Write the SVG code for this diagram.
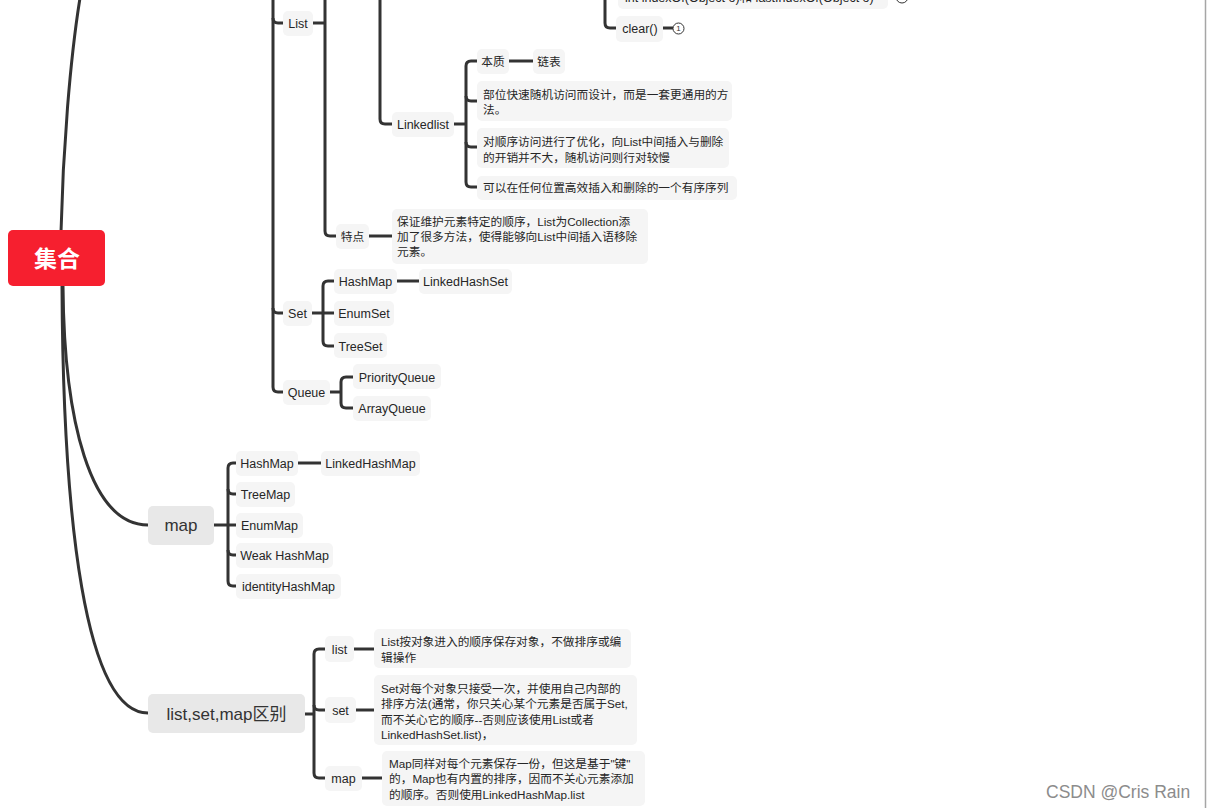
<svg xmlns="http://www.w3.org/2000/svg" width="1209" height="808" viewBox="0 0 1209 808">
<style>
.c{fill:none;stroke:#333;stroke-width:3;stroke-linecap:butt;stroke-linejoin:round}
.b{fill:#f5f5f5}
.m{fill:#e8e8e8}
.t{font-family:"Liberation Sans","Noto Sans CJK SC",sans-serif;font-size:12.5px;fill:#262626}
.tc{text-anchor:middle}
.z{font-family:"Liberation Sans","Noto Sans CJK SC",sans-serif;font-size:11.7px;fill:#262626}
.big{font-family:"Liberation Sans","Noto Sans CJK SC",sans-serif;font-size:17px;fill:#333;text-anchor:middle}
</style>
<rect x="0" y="0" width="1209" height="808" fill="#ffffff"/>
<g id="connectors">
<path class="c" d="M61,232 C63,150 70,60 80,-2"/>
<path class="c" d="M63,286 C64,420 90,525 148,525"/>
<path class="c" d="M62,286 C63,520 85,713 148,713"/>
<path class="c" d="M273,0 V387 Q273,392 278,392 H283"/>
<path class="c" d="M273,18 Q273,23 278,23 H283"/>
<path class="c" d="M273,308 Q273,313 278,313 H283"/>
<path class="c" d="M313,23 H325"/>
<path class="c" d="M325,0 V231 Q325,236 330,236 H336"/>
<path class="c" d="M380,0 V119 Q380,124 385,124 H392"/>
<path class="c" d="M605,0 V23 Q605,28 610,28 H616"/>
<path class="c" d="M663,28 H673"/>
<path class="c" d="M888,-3 H896"/>
<path class="c" d="M454,124 H466"/>
<path class="c" d="M477,61 H471 Q466,61 466,66 V182 Q466,187 471,187 H477"/>
<path class="c" d="M466,96 Q466,101 471,101 H477"/>
<path class="c" d="M466,142 Q466,147 471,147 H477"/>
<path class="c" d="M509,61 H533"/>
<path class="c" d="M369,236 H392"/>
<path class="c" d="M312,313 H334"/>
<path class="c" d="M334,281 H328 Q323,281 323,286 V341 Q323,346 328,346 H334"/>
<path class="c" d="M397,281 H419"/>
<path class="c" d="M330,392 H341"/>
<path class="c" d="M353,377 H346 Q341,377 341,382 V403 Q341,408 346,408 H353"/>
<path class="c" d="M214,525 H236"/>
<path class="c" d="M236,463 H233 Q228,463 228,468 V581 Q228,586 233,586 H236"/>
<path class="c" d="M228,489 Q228,494 233,494 H236"/>
<path class="c" d="M228,550 Q228,555 233,555 H236"/>
<path class="c" d="M298,463 H321"/>
<path class="c" d="M305,714 H314"/>
<path class="c" d="M325,649 H319 Q314,649 314,654 V773 Q314,778 319,778 H325"/>
<path class="c" d="M314,705 Q314,710 319,710 H325"/>
<path class="c" d="M354,649 H374"/>
<path class="c" d="M356,710 H374"/>
<path class="c" d="M362,778 H382"/>
</g>
<g id="root">
<rect x="8" y="230" width="97" height="56" rx="5" fill="#f61f2f"/>
<text x="57" y="266.5" font-family="'Noto Sans CJK SC',sans-serif" font-size="23" font-weight="bold" fill="#ffffff" text-anchor="middle">集合</text>
</g>
<g id="n-list">
<rect class="b" x="283" y="11" width="30" height="25" rx="5"/>
<text class="t tc" x="298" y="28">List</text>
</g>
<g id="n-indexof">
<rect class="b" x="618" y="-20" width="270" height="29" rx="5"/>
<text class="t" x="625" y="1.5">int indexOf(Object o)和 lastIndexOf(Object o)</text>
<circle cx="902" cy="-3" r="6" fill="#fff" stroke="#333" stroke-width="1"/>
</g>
<g id="n-clear">
<rect class="b" x="616" y="16" width="47" height="26" rx="5"/>
<text class="t tc" x="640" y="33">clear()</text>
<circle cx="678.5" cy="28.5" r="5.5" fill="#fff" stroke="#333" stroke-width="1"/>
<text x="678.5" y="31.3" font-family="'Liberation Sans',sans-serif" font-size="8" fill="#333" text-anchor="middle">1</text>
</g>
<g id="n-linkedlist">
<rect class="b" x="392" y="112" width="62" height="25" rx="5"/>
<text class="t tc" x="423" y="129">Linkedlist</text>
</g>
<g id="n-benzhi">
<rect class="b" x="477" y="49" width="32" height="25" rx="5"/>
<text class="z tc" x="493" y="65.5">本质</text>
</g>
<g id="n-lianbiao">
<rect class="b" x="533" y="49" width="32" height="25" rx="5"/>
<text class="z tc" x="549" y="65.5">链表</text>
</g>
<g id="n-ll1">
<rect class="b" x="477" y="81" width="255" height="40" rx="5"/>
<text class="z" x="483" y="99">部位快速随机访问而设计，而是一套更通用的方</text>
<text class="z" x="483" y="114">法。</text>
</g>
<g id="n-ll2">
<rect class="b" x="477" y="128" width="252" height="40" rx="5"/>
<text class="z" x="483" y="145.5">对顺序访问进行了优化，向List中间插入与删除</text>
<text class="z" x="483" y="161.5">的开销并不大，随机访问则行对较慢</text>
</g>
<g id="n-ll3">
<rect class="b" x="477" y="176" width="260" height="24" rx="5"/>
<text class="z" x="483" y="192">可以在任何位置高效插入和删除的一个有序序列</text>
</g>
<g id="n-tedian">
<rect class="b" x="336" y="224" width="33" height="25" rx="5"/>
<text class="z tc" x="352.5" y="240.5">特点</text>
</g>
<g id="n-tedian-desc">
<rect class="b" x="392" y="209" width="256" height="55" rx="5"/>
<text class="z" x="397" y="225.5">保证维护元素特定的顺序，List为Collection添</text>
<text class="z" x="397" y="240.5">加了很多方法，使得能够向List中间插入语移除</text>
<text class="z" x="397" y="255.5">元素。</text>
</g>
<g id="n-set">
<rect class="b" x="283" y="301" width="29" height="25" rx="5"/>
<text class="t tc" x="297.5" y="318">Set</text>
</g>
<g id="n-set-hashmap">
<rect class="b" x="334" y="269" width="63" height="25" rx="5"/>
<text class="t tc" x="365.5" y="285.5">HashMap</text>
</g>
<g id="n-linkedhashset">
<rect class="b" x="419" y="269" width="93" height="25" rx="5"/>
<text class="t tc" x="465.5" y="285.5">LinkedHashSet</text>
</g>
<g id="n-enumset">
<rect class="b" x="334" y="301" width="60" height="25" rx="5"/>
<text class="t tc" x="364" y="318">EnumSet</text>
</g>
<g id="n-treeset">
<rect class="b" x="334" y="333" width="53" height="25" rx="5"/>
<text class="t tc" x="360.5" y="350.5">TreeSet</text>
</g>
<g id="n-queue">
<rect class="b" x="283" y="380" width="47" height="25" rx="5"/>
<text class="t tc" x="306.5" y="396.5">Queue</text>
</g>
<g id="n-priorityqueue">
<rect class="b" x="353" y="364" width="88" height="25" rx="5"/>
<text class="t tc" x="397" y="381.5">PriorityQueue</text>
</g>
<g id="n-arrayqueue">
<rect class="b" x="353" y="396" width="78" height="25" rx="5"/>
<text class="t tc" x="392" y="412.5">ArrayQueue</text>
</g>
<g id="n-map">
<rect class="m" x="148" y="506" width="66" height="39" rx="5"/>
<text class="big" x="181" y="531">map</text>
</g>
<g id="n-map-hashmap">
<rect class="b" x="236" y="451" width="62" height="25" rx="5"/>
<text class="t tc" x="267" y="468">HashMap</text>
</g>
<g id="n-linkedhashmap">
<rect class="b" x="321" y="451" width="99" height="25" rx="5"/>
<text class="t tc" x="370.5" y="468">LinkedHashMap</text>
</g>
<g id="n-treemap">
<rect class="b" x="236" y="482" width="59" height="25" rx="5"/>
<text class="t tc" x="265.5" y="499">TreeMap</text>
</g>
<g id="n-enummap">
<rect class="b" x="236" y="513" width="67" height="25" rx="5"/>
<text class="t tc" x="269.5" y="530">EnumMap</text>
</g>
<g id="n-weakhashmap">
<rect class="b" x="236" y="543" width="97" height="25" rx="5"/>
<text class="t tc" x="284.5" y="560">Weak HashMap</text>
</g>
<g id="n-identityhashmap">
<rect class="b" x="236" y="574" width="105" height="25" rx="5"/>
<text class="t tc" x="288.5" y="591">identityHashMap</text>
</g>
<g id="n-diff">
<rect class="m" x="148" y="694" width="157" height="39" rx="5"/>
<text class="big" x="226.5" y="720">list,set,map区别</text>
</g>
<g id="n-diff-list">
<rect class="b" x="325" y="636" width="29" height="26" rx="5"/>
<text class="t tc" x="339.5" y="653.5">list</text>
</g>
<g id="n-diff-list-desc">
<rect class="b" x="374" y="629" width="257" height="39" rx="5"/>
<text class="z" x="381" y="645.5">List按对象进入的顺序保存对象，不做排序或编</text>
<text class="z" x="381" y="661.5">辑操作</text>
</g>
<g id="n-diff-set">
<rect class="b" x="325" y="697" width="31" height="26" rx="5"/>
<text class="t tc" x="340.5" y="714.5">set</text>
</g>
<g id="n-diff-set-desc">
<rect class="b" x="374" y="675" width="263" height="70" rx="5"/>
<text class="z" x="381" y="692.5">Set对每个对象只接受一次，并使用自己内部的</text>
<text class="z" x="381" y="707.5">排序方法(通常，你只关心某个元素是否属于Set,</text>
<text class="z" x="381" y="723.5">而不关心它的顺序--否则应该使用List或者</text>
<text class="z" x="381" y="738.5">LinkedHashSet.list)，</text>
</g>
<g id="n-diff-map">
<rect class="b" x="325" y="766" width="37" height="25" rx="5"/>
<text class="t tc" x="343.5" y="782.5">map</text>
</g>
<g id="n-diff-map-desc">
<rect class="b" x="382" y="751" width="263" height="55" rx="5"/>
<text class="z" x="389" y="767.5">Map同样对每个元素保存一份，但这是基于"键"</text>
<text class="z" x="389" y="782.5">的，Map也有内置的排序，因而不关心元素添加</text>
<text class="z" x="389" y="798.5">的顺序。否则使用LinkedHashMap.list</text>
</g>
<line x1="1205.5" y1="0" x2="1205.5" y2="808" stroke="#a6a6a6" stroke-width="1.5"/>
<text x="1046" y="798" font-family="'Liberation Sans',sans-serif" font-size="17.5" fill="#8c8c8c">CSDN @Cris Rain</text>
</svg>
